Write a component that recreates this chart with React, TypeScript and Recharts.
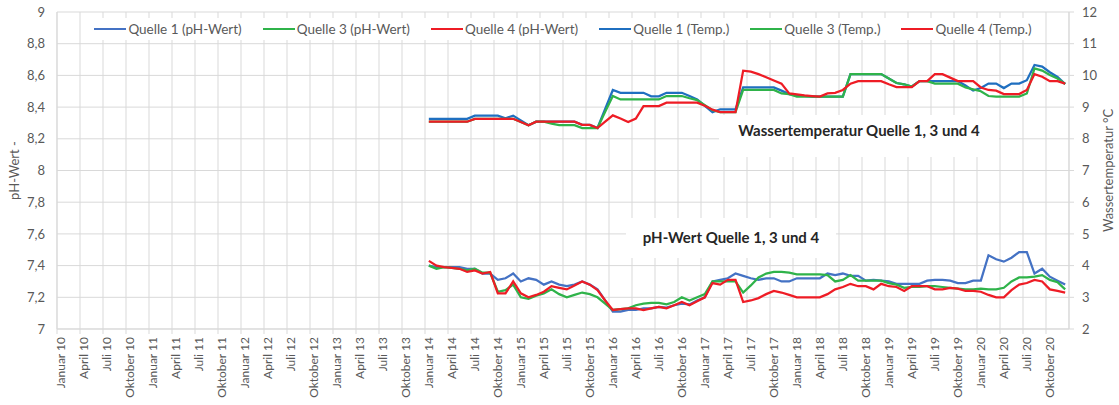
import { LineChart, Line, XAxis, YAxis, CartesianGrid, Legend } from 'recharts';

// monthly values, Januar 2014 .. Dezember 2020
const firstMonth = 48; // months counted from Januar 2010
const axisMonths = 132; // Januar 2010 .. Januar 2021

const quarterNames = ['Januar', 'April', 'Juli', 'Oktober'];
const years = ['10', '11', '12', '13', '14', '15', '16', '17', '18', '19', '20'];
const quarterLabels = years.flatMap((y) => quarterNames.map((q) => `${q} ${y}`));
const quarterTicks = quarterLabels.map((_, i) => i * 3);

const seriesNames = [
  'Quelle 1 (pH-Wert)',
  'Quelle 3 (pH-Wert)',
  'Quelle 4 (pH-Wert)',
  'Quelle 1 (Temp.)',
  'Quelle 3 (Temp.)',
  'Quelle 4 (Temp.)',
];

const phQ1 = [
  7.40, 7.39, 7.39, 7.39, 7.39, 7.38, 7.38, 7.35, 7.35, 7.31, 7.32, 7.35,
  7.30, 7.32, 7.31, 7.28, 7.30, 7.28, 7.27, 7.28, 7.30, 7.28, 7.25, 7.18,
  7.11, 7.11, 7.12, 7.12, 7.13, 7.13, 7.14, 7.135, 7.15, 7.16, 7.155, 7.18,
  7.20, 7.30, 7.31, 7.32, 7.35, 7.335, 7.32, 7.31, 7.32, 7.32, 7.30, 7.30,
  7.32, 7.32, 7.32, 7.32, 7.35, 7.34, 7.35, 7.335, 7.335, 7.305, 7.31, 7.305,
  7.30, 7.285, 7.285, 7.285, 7.285, 7.305, 7.31, 7.31, 7.305, 7.29, 7.29, 7.305,
  7.305, 7.465, 7.44, 7.425, 7.45, 7.485, 7.485, 7.35, 7.38, 7.33, 7.305, 7.28,
];
const phQ3 = [
  7.40, 7.38, 7.39, 7.385, 7.38, 7.37, 7.38, 7.355, 7.355, 7.235, 7.245, 7.28,
  7.20, 7.19, 7.21, 7.225, 7.25, 7.22, 7.20, 7.215, 7.23, 7.22, 7.20, 7.16,
  7.12, 7.125, 7.13, 7.15, 7.16, 7.165, 7.165, 7.155, 7.17, 7.20, 7.18, 7.20,
  7.22, 7.30, 7.30, 7.30, 7.30, 7.23, 7.275, 7.325, 7.35, 7.36, 7.36, 7.355,
  7.345, 7.345, 7.345, 7.345, 7.34, 7.30, 7.31, 7.34, 7.305, 7.305, 7.305, 7.305,
  7.29, 7.28, 7.26, 7.265, 7.265, 7.27, 7.27, 7.265, 7.26, 7.255, 7.25, 7.25,
  7.255, 7.25, 7.25, 7.26, 7.30, 7.325, 7.325, 7.33, 7.34, 7.31, 7.295, 7.25,
];
const phQ4 = [
  7.43, 7.40, 7.39, 7.385, 7.38, 7.36, 7.37, 7.35, 7.36, 7.225, 7.225, 7.30,
  7.225, 7.20, 7.215, 7.235, 7.27, 7.26, 7.25, 7.275, 7.30, 7.28, 7.245, 7.18,
  7.12, 7.125, 7.13, 7.13, 7.12, 7.13, 7.14, 7.13, 7.15, 7.17, 7.15, 7.175,
  7.20, 7.29, 7.28, 7.31, 7.31, 7.17, 7.18, 7.195, 7.22, 7.24, 7.23, 7.215,
  7.20, 7.20, 7.20, 7.20, 7.22, 7.25, 7.265, 7.285, 7.27, 7.27, 7.25, 7.285,
  7.27, 7.265, 7.24, 7.27, 7.27, 7.27, 7.25, 7.25, 7.26, 7.255, 7.24, 7.24,
  7.235, 7.215, 7.20, 7.20, 7.245, 7.28, 7.29, 7.31, 7.30, 7.25, 7.24, 7.23,
];
const tempQ1 = [
  8.63, 8.63, 8.63, 8.63, 8.63, 8.63, 8.73, 8.73, 8.73, 8.73, 8.65, 8.73,
  8.58, 8.43, 8.54, 8.54, 8.54, 8.54, 8.54, 8.54, 8.44, 8.44, 8.34, 8.94,
  9.54, 9.45, 9.45, 9.45, 9.45, 9.34, 9.34, 9.45, 9.45, 9.45, 9.35, 9.24,
  9.04, 8.84, 8.93, 8.93, 8.93, 9.62, 9.62, 9.62, 9.62, 9.62, 9.52, 9.41,
  9.38, 9.35, 9.33, 9.33, 9.33, 9.33, 9.33, 10.04, 10.04, 10.04, 10.04, 10.04,
  9.9, 9.76, 9.72, 9.65, 9.82, 9.82, 9.82, 9.82, 9.82, 9.82, 9.68, 9.52,
  9.6, 9.74, 9.74, 9.6, 9.74, 9.74, 9.85, 10.33, 10.28, 10.1, 9.95, 9.73,
];
const tempQ3 = [
  8.54, 8.54, 8.54, 8.54, 8.54, 8.54, 8.63, 8.63, 8.63, 8.63, 8.63, 8.63,
  8.53, 8.43, 8.54, 8.54, 8.48, 8.43, 8.43, 8.43, 8.34, 8.34, 8.34, 8.85,
  9.35, 9.24, 9.24, 9.24, 9.24, 9.24, 9.24, 9.35, 9.35, 9.35, 9.28, 9.22,
  9.06, 8.9, 8.84, 8.84, 8.84, 9.54, 9.54, 9.54, 9.54, 9.54, 9.43, 9.41,
  9.33, 9.33, 9.33, 9.33, 9.33, 9.33, 9.33, 10.04, 10.04, 10.04, 10.04, 10.04,
  9.9, 9.76, 9.72, 9.65, 9.82, 9.82, 9.74, 9.74, 9.74, 9.74, 9.62, 9.56,
  9.5, 9.35, 9.33, 9.33, 9.33, 9.33, 9.43, 10.22, 10.15, 10.01, 9.9, 9.73,
];
const tempQ4 = [
  8.54, 8.54, 8.54, 8.54, 8.54, 8.54, 8.63, 8.63, 8.63, 8.63, 8.63, 8.63,
  8.53, 8.43, 8.54, 8.54, 8.54, 8.54, 8.54, 8.54, 8.44, 8.44, 8.34, 8.54,
  8.74, 8.64, 8.53, 8.64, 9.03, 9.03, 9.03, 9.14, 9.14, 9.14, 9.14, 9.14,
  9.04, 8.92, 8.84, 8.84, 8.84, 10.15, 10.12, 10.04, 9.94, 9.84, 9.74, 9.43,
  9.4, 9.37, 9.35, 9.33, 9.43, 9.45, 9.54, 9.74, 9.82, 9.82, 9.82, 9.82,
  9.72, 9.63, 9.63, 9.63, 9.82, 9.82, 10.04, 10.04, 9.93, 9.82, 9.82, 9.82,
  9.62, 9.54, 9.52, 9.41, 9.41, 9.41, 9.54, 10.04, 9.96, 9.82, 9.82, 9.74,
];

const phTicks = [7, 7.2, 7.4, 7.6, 7.8, 8, 8.2, 8.4, 8.6, 8.8, 9];
const tempTicks = [2, 3, 4, 5, 6, 7, 8, 9, 10, 11, 12];

// point sits in the middle of its month
const data = phQ1.map((_, i) => ({
  month: firstMonth + i + 0.5,
  phQ1: phQ1[i],
  phQ3: phQ3[i],
  phQ4: phQ4[i],
  tempQ1: tempQ1[i],
  tempQ3: tempQ3[i],
  tempQ4: tempQ4[i],
}));

const W = 1119;
const H = 405;
const LEFT_W = 57;
const RIGHT_W = 50;
const TOP = 12;
const X_H = 76;
const plotWidth = W - LEFT_W - RIGHT_W;
const halfMonth = plotWidth / axisMonths / 2;

const FONT = 'Lato, "Open Sans", sans-serif';
const GRID = '#d9d9d9';
const TEXT = '#595959';

const BLUE_PH = '#4472c4';
const BLUE_T = '#1f6fc0';
const GREEN = '#2fb34a';
const RED = '#ee1c25';

const comma = (v: number) => String(v).replace('.', ',');

function QuarterTick(props: any) {
  const { x, y, payload } = props;
  const label = quarterLabels[Math.round(payload.value / 3)];
  const tx = x + halfMonth;
  return (
    <text
      x={tx}
      y={y}
      transform={`rotate(-90, ${tx}, ${y})`}
      textAnchor="end"
      dominantBaseline="central"
      fontSize={12}
      fill={TEXT}
      fontFamily={FONT}
    >
      {label}
    </text>
  );
}

function LegendBox(props: any) {
  const items = [...(props.payload ?? [])].sort(
    (a: any, b: any) => seriesNames.indexOf(a.value) - seriesNames.indexOf(b.value),
  );
  return (
    <div style={{ display: 'flex', justifyContent: 'center' }}>
      <div style={{ display: 'flex', gap: 21, background: '#fff', padding: '3px 10px' }}>
        {items.map((p: any) => (
          <span
            key={p.value}
            style={{ display: 'flex', alignItems: 'center', color: TEXT, fontSize: 13.5, fontFamily: FONT, whiteSpace: 'nowrap' }}
          >
            <span style={{ width: 32, height: 2.5, background: p.color, marginRight: 2 }} />
            {p.value}
          </span>
        ))}
      </div>
    </div>
  );
}

const noteStyle = {
  position: 'absolute' as const,
  background: '#fff',
  fontFamily: FONT,
  fontWeight: 700,
  fontSize: 15,
  lineHeight: '20px',
  color: '#262626',
  textAlign: 'center' as const,
  whiteSpace: 'nowrap' as const,
  boxSizing: 'border-box' as const,
};

export default function App() {
  const lineProps = { type: 'linear' as const, dot: false, strokeWidth: 2.25, isAnimationActive: false };
  return (
    <div style={{ position: 'absolute', left: 0, top: 0, width: W, height: H, background: '#fff' }}>
      <LineChart width={W} height={H} data={data} margin={{ top: TOP, right: 0, bottom: 0, left: 0 }}>
        <CartesianGrid stroke={GRID} strokeWidth={1} yAxisId="ph" />
        <XAxis
          dataKey="month"
          type="number"
          domain={[0, axisMonths]}
          ticks={quarterTicks}
          interval={0}
          height={X_H}
          tick={<QuarterTick />}
          tickSize={5}
          tickMargin={3}
          stroke={GRID}
          tickLine={{ stroke: GRID }}
        />
        <YAxis
          yAxisId="ph"
          domain={[7, 9]}
          ticks={phTicks}
          interval={0}
          width={LEFT_W}
          tickFormatter={comma}
          tick={{ fontSize: 13, fill: TEXT, fontFamily: FONT }}
          tickLine={false}
          tickSize={6}
          tickMargin={6}
          stroke={GRID}
          label={{
            value: 'pH-Wert -',
            angle: -90,
            position: 'insideLeft',
            offset: 14,
            style: { textAnchor: 'middle', fontSize: 13, fill: TEXT, fontFamily: FONT },
          }}
        />
        <YAxis
          yAxisId="temp"
          orientation="right"
          domain={[2, 12]}
          ticks={tempTicks}
          interval={0}
          width={RIGHT_W}
          tick={{ fontSize: 13, fill: TEXT, fontFamily: FONT }}
          tickSize={5}
          tickMargin={8}
          stroke={GRID}
          tickLine={{ stroke: GRID }}
          label={{
            value: 'Wassertemperatur °C',
            angle: -90,
            position: 'insideRight',
            offset: 11,
            style: { textAnchor: 'middle', fontSize: 13, fill: TEXT, fontFamily: FONT },
          }}
        />
        <Legend
          layout="horizontal"
          verticalAlign="middle"
          align="center"
          content={<LegendBox />}
          wrapperStyle={{ top: 18, left: LEFT_W, width: plotWidth }}
        />
        <Line yAxisId="ph" dataKey="phQ1" name={seriesNames[0]} stroke={BLUE_PH} {...lineProps} />
        <Line yAxisId="ph" dataKey="phQ3" name={seriesNames[1]} stroke={GREEN} {...lineProps} />
        <Line yAxisId="ph" dataKey="phQ4" name={seriesNames[2]} stroke={RED} {...lineProps} />
        <Line yAxisId="temp" dataKey="tempQ1" name={seriesNames[3]} stroke={BLUE_T} {...lineProps} />
        <Line yAxisId="temp" dataKey="tempQ3" name={seriesNames[4]} stroke={GREEN} {...lineProps} />
        <Line yAxisId="temp" dataKey="tempQ4" name={seriesNames[5]} stroke={RED} {...lineProps} />
      </LineChart>
      <div style={{ ...noteStyle, left: 719, top: 115, width: 280, height: 42, paddingTop: 5 }}>
        Wassertemperatur Quelle 1, 3 und 4
      </div>
      <div style={{ ...noteStyle, left: 626, top: 218, width: 210, height: 40, paddingTop: 9 }}>
        pH-Wert Quelle 1, 3 und 4
      </div>
    </div>
  );
}
